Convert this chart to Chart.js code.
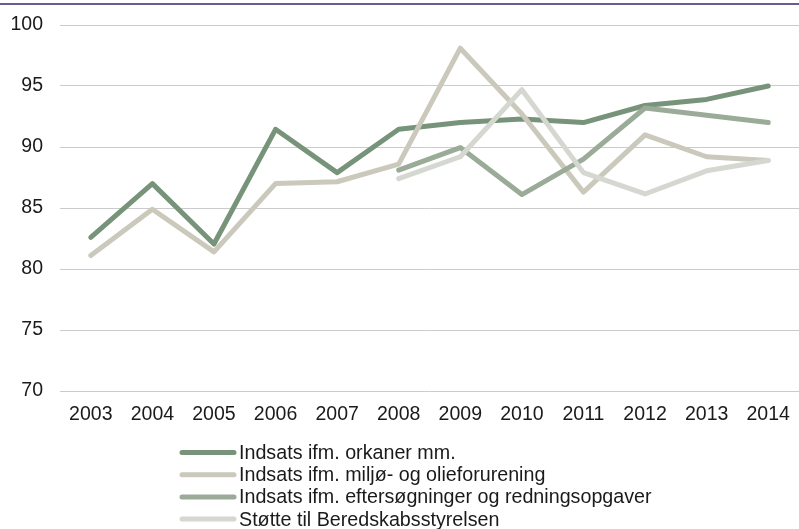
<!DOCTYPE html>
<html>
<head>
<meta charset="utf-8">
<script src="https://cdn.jsdelivr.net/npm/chart.js@4.4.1/dist/chart.umd.min.js"></script>
<style>
html,body{margin:0;padding:0;background:#fff;}
#wrap{width:799px;height:529px;position:relative;}
</style>
</head>
<body>
<div id="wrap"><canvas id="c" width="799" height="529"></canvas></div>
<script>
const years = ['2003','2004','2005','2006','2007','2008','2009','2010','2011','2012','2013','2014'];
const orkaner = [82.6, 87.0, 82.05, 91.45, 87.9, 91.45, 92.0, 92.3, 92.0, 93.4, 93.9, 95.0];
const miljo = [81.1, 84.9, 81.4, 87.0, 87.15, 88.6, 98.1, 92.7, 86.3, 91.0, 89.2, 88.9];
const eftersogning = [null, null, null, null, null, 88.1, 89.95, 86.1, 89.0, 93.2, 92.6, 92.0];
const beredskab = [null, null, null, null, null, 87.4, 89.2, 94.7, 87.9, 86.15, 88.05, 88.9];
const seriesLabels = [
  'Indsats ifm. orkaner mm.',
  'Indsats ifm. miljø- og olieforurening',
  'Indsats ifm. eftersøgninger og redningsopgaver',
  'Støtte til Beredskabsstyrelsen'
];
const colors = ['#77937a', '#cbc8bc', '#9aab97', '#d5d8d1'];
const yTicks = [70, 75, 80, 85, 90, 95, 100];

const FONT = '"Liberation Sans", Arial, sans-serif';

const topLine = {
  id: 'topLine',
  beforeDraw(chart) {
    const ctx = chart.ctx;
    ctx.save();
    ctx.fillStyle = '#6b5a8c';
    ctx.fillRect(0, 3, chart.width, 2);
    ctx.restore();
  }
};

const customLegend = {
  id: 'customLegend',
  afterDraw(chart) {
    const ctx = chart.ctx;
    ctx.save();
    ctx.font = '19.7px ' + FONT;
    ctx.textBaseline = 'middle';
    ctx.textAlign = 'left';
    chart.data.datasets.forEach((ds, i) => {
      const y = 452.5 + i * 22.2;
      ctx.strokeStyle = ds.borderColor;
      ctx.lineWidth = 5;
      ctx.lineCap = 'round';
      ctx.beginPath();
      ctx.moveTo(182, y);
      ctx.lineTo(234, y);
      ctx.stroke();
      ctx.fillStyle = '#1a1a1a';
      ctx.fillText(ds.label, 239, y + 1);
    });
    ctx.restore();
  }
};

const data = {
  labels: years,
  datasets: [orkaner, miljo, eftersogning, beredskab].map((vals, i) => ({
    label: seriesLabels[i],
    data: vals,
    borderColor: colors[i],
    backgroundColor: colors[i],
    borderWidth: 5,
    borderCapStyle: 'round',
    borderJoinStyle: 'round',
    pointRadius: 0,
    pointHoverRadius: 0,
    tension: 0,
    fill: false,
    spanGaps: false,
    order: 3 - i
  }))
};

new Chart(document.getElementById('c'), {
  type: 'line',
  data,
  options: {
    responsive: false,
    animation: false,
    devicePixelRatio: 1,
    layout: { padding: { top: 25, right: 0, bottom: 98, left: 0 } },
    plugins: {
      legend: { display: false },
      tooltip: { enabled: false }
    },
    scales: {
      x: {
        offset: true,
        grid: { display: false, drawTicks: false },
        border: { display: false },
        ticks: {
          color: '#1a1a1a',
          font: { family: FONT, size: 19.5 },
          padding: 12,
          maxRotation: 0,
          autoSkip: false
        },
        afterFit(scale) { scale.height = 40; scale.paddingLeft = 0; scale.paddingRight = 0; }
      },
      y: {
        min: 70,
        max: 100,
        afterBuildTicks(scale) { scale.ticks = yTicks.map(v => ({ value: v })); },
        grid: { color: '#cbcbcb', lineWidth: 1, drawTicks: false },
        border: { display: false },
        ticks: {
          color: '#1a1a1a',
          font: { family: FONT, size: 19.5 },
          padding: 17
        },
        afterFit(scale) { scale.width = 60; scale.paddingTop = 0; scale.paddingBottom = 0; }
      }
    }
  },
  plugins: [topLine, customLegend]
});
</script>
</body>
</html>
